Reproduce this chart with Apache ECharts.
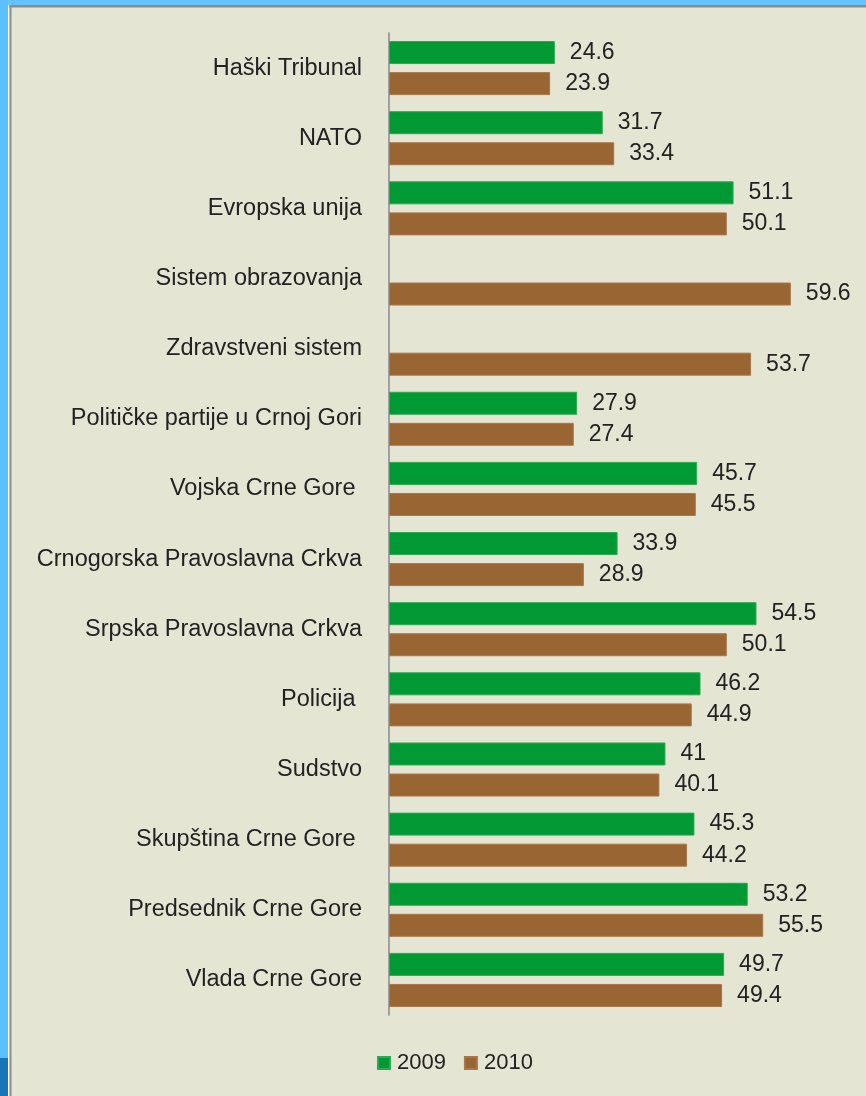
<!DOCTYPE html>
<html>
<head>
<meta charset="utf-8">
<script src="https://cdn.jsdelivr.net/npm/echarts@6/dist/echarts.min.js"></script>
<style>
  html, body { margin: 0; padding: 0; }
  #chart { width: 866px; height: 1096px; }
</style>
</head>
<body>
<div id="chart"></div>
<script>
// kategorije odozgo nadole
const categories = [
  'Haški Tribunal',
  'NATO',
  'Evropska unija',
  'Sistem obrazovanja',
  'Zdravstveni sistem',
  'Političke partije u Crnoj Gori',
  'Vojska Crne Gore ',
  'Crnogorska Pravoslavna Crkva',
  'Srpska Pravoslavna Crkva',
  'Policija ',
  'Sudstvo',
  'Skupština Crne Gore ',
  'Predsednik Crne Gore',
  'Vlada Crne Gore'
]
const values2009 = [24.6, 31.7, 51.1, null, null, 27.9, 45.7, 33.9, 54.5, 46.2, 41, 45.3, 53.2, 49.7]
const values2010 = [23.9, 33.4, 50.1, 59.6, 53.7, 27.4, 45.5, 28.9, 50.1, 44.9, 40.1, 44.2, 55.5, 49.4]
const seriesNames = ['2009', '2010']

const font = 'Liberation Sans'
const myChart = echarts.init(document.getElementById('chart'))

const labelStyle = {
  show: true,
  position: 'right',
  distance: 15,
  color: '#222',
  fontFamily: font,
  fontSize: 23
}

const option = {
  backgroundColor: '#E5E5D4',
  animation: false,
  graphic: [
    // okvir slajda
    { type: 'rect', shape: { x: 0, y: 0, width: 866, height: 5 }, style: { fill: '#66C2FF' }, silent: true },
    { type: 'rect', shape: { x: 0, y: 0, width: 8, height: 1058 }, style: { fill: '#5CC0FA' }, silent: true },
    { type: 'rect', shape: { x: 0, y: 1058, width: 8, height: 38 }, style: { fill: '#1A74B8' }, silent: true },
    { type: 'rect', shape: { x: 8, y: 5, width: 1.5, height: 1091 }, style: { fill: '#FFFFFF' }, silent: true },
    { type: 'rect', shape: { x: 9.5, y: 5, width: 856.5, height: 2.5 }, style: { fill: '#8C8C8C' }, silent: true },
    { type: 'rect', shape: { x: 9.5, y: 5, width: 2, height: 1091 }, style: { fill: '#8C8C8C' }, silent: true }
  ],
  legend: {
    data: seriesNames,
    left: 377,
    top: 1052,
    padding: 0,
    icon: 'rect',
    itemWidth: 12,
    itemHeight: 12,
    itemGap: 18,
    textStyle: { fontFamily: font, fontSize: 22, color: '#222', padding: [0, 0, 0, 2] }
  },
  grid: {
    left: 389,
    right: 5,
    top: 33,
    bottom: 81,
    containLabel: false
  },
  xAxis: {
    type: 'value',
    min: 0,
    max: 70,
    show: false,
    splitLine: { show: false }
  },
  yAxis: {
    type: 'category',
    inverse: true,
    data: categories,
    axisLine: { show: true, lineStyle: { color: '#A0A0A0', width: 2 } },
    axisTick: { show: false },
    axisLabel: {
      margin: 27,
      color: '#222',
      fontFamily: font,
      fontSize: 23.5
    }
  },
  series: [
    {
      name: seriesNames[0],
      type: 'bar',
      data: values2009,
      barWidth: 23,
      barGap: '35%',
      itemStyle: { color: '#009933', borderColor: '#2FA852', borderWidth: 1 },
      label: labelStyle
    },
    {
      name: seriesNames[1],
      type: 'bar',
      data: values2010,
      barWidth: 23,
      barGap: '35%',
      itemStyle: { color: '#996633', borderColor: '#A8774A', borderWidth: 1 },
      label: labelStyle
    }
  ]
}
option && myChart.setOption(option)
</script>
</body>
</html>
